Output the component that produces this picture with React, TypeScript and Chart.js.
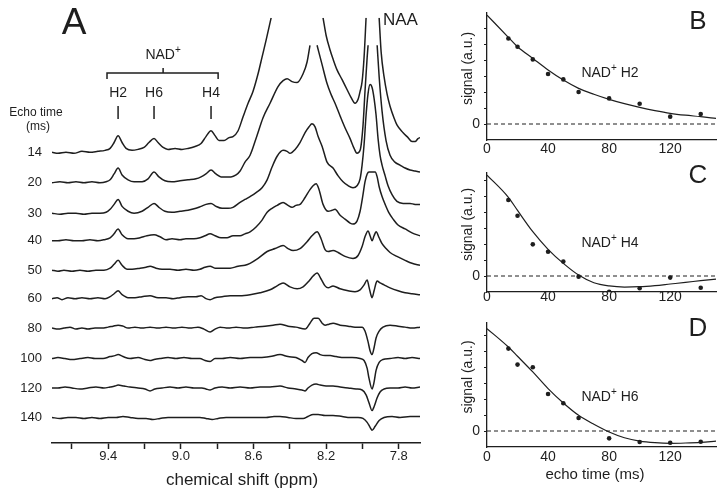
import React, { useEffect, useRef } from 'react';
import { Chart, registerables } from 'chart.js';

Chart.register(...registerables);

const FONT = '"Liberation Sans", Arial, Helvetica, sans-serif';
const INK = '#1e1e1e';
Chart.defaults.font.family = FONT;
Chart.defaults.color = INK;

// ---------- Panel A data ----------
const echoTimes = [14, 20, 30, 40, 50, 60, 80, 100, 120, 140];
// vertical offset of each stacked spectrum (a.u.)
const traceOffsets = [296, 265, 234, 206, 176, 147, 117, 86, 56, 26];
const ppmTicks = [9.6, 9.4, 9.2, 9.0, 8.8, 8.6, 8.4, 8.2, 8.0, 7.8];
const ppmTickLabels = ['9.4', '9.0', '8.6', '8.2', '7.8'];
const nadPeakLabels = ['H2', 'H6', 'H4'];
const nadPeakPpm = [9.346, 9.148, 8.834];
const nadBracketPpm = [9.407, 9.098, 8.795];

// spectra: [ppm, intensity above own baseline]; null = trace clipped
const spec14 = [[9.710,0],[9.677,-1],[9.633,0],[9.589,-1],[9.545,1],[9.501,0],[9.457,1],[9.418,2],[9.390,4],[9.368,10],[9.346,17],[9.324,10],[9.302,4],[9.269,2],[9.236,3],[9.203,5],[9.176,10],[9.148,14],[9.126,10],[9.098,5],[9.071,3],[9.032,4],[8.994,3],[8.961,4],[8.922,6],[8.889,9],[8.862,16],[8.834,22],[8.812,17],[8.790,12],[8.762,12],[8.735,15],[8.713,16],[8.685,22],[8.658,36],[8.630,50],[8.603,62],[8.575,80],[8.553,97],[8.531,114],[8.503,137],[8.37,null],[8.217,137],[8.200,119],[8.178,104],[8.162,95],[8.140,84],[8.112,74],[8.085,64],[8.063,56],[8.041,50],[8.024,54],[8.013,62],[8.002,72],[7.991,97],[7.980,137],[7.95,null],[7.908,137],[7.897,102],[7.881,77],[7.864,59],[7.848,47],[7.826,35],[7.810,28],[7.776,20],[7.749,15],[7.727,11],[7.710,11],[7.694,14],[7.683,15]];
const spec20 = [[9.710,0],[9.666,1],[9.622,0],[9.578,1],[9.534,0],[9.490,1],[9.446,0],[9.412,1],[9.390,3],[9.368,9],[9.346,15],[9.324,8],[9.291,3],[9.258,1],[9.214,1],[9.181,4],[9.148,11],[9.121,6],[9.088,2],[9.049,1],[9.005,2],[8.961,3],[8.917,4],[8.889,6],[8.862,9],[8.834,13],[8.807,9],[8.779,6],[8.751,6],[8.724,6],[8.696,8],[8.674,12],[8.647,21],[8.619,28],[8.581,48],[8.548,66],[8.509,81],[8.465,98],[8.437,104],[8.415,106],[8.388,103],[8.360,102],[8.327,111],[8.305,123],[8.289,140],[8.27,null],[8.250,140],[8.222,120],[8.195,101],[8.173,90],[8.151,81],[8.123,68],[8.096,56],[8.068,45],[8.046,35],[8.030,30],[8.013,33],[7.997,58],[7.986,93],[7.974,128],[7.969,140],[7.95,null],[7.919,140],[7.908,108],[7.892,73],[7.870,43],[7.848,28],[7.821,21],[7.793,18],[7.765,15],[7.738,13],[7.710,12],[7.683,11]];
const spec30 = [[9.710,0],[9.666,-1],[9.622,0],[9.578,0],[9.534,-1],[9.490,0],[9.446,0],[9.412,1],[9.390,4],[9.368,9],[9.346,14],[9.324,7],[9.291,2],[9.258,0],[9.214,2],[9.181,6],[9.148,10],[9.121,6],[9.088,2],[9.049,1],[9.005,2],[8.961,3],[8.917,5],[8.889,7],[8.862,9],[8.834,10],[8.807,7],[8.773,5],[8.740,5],[8.713,6],[8.674,11],[8.647,14],[8.619,17],[8.586,21],[8.553,26],[8.525,34],[8.498,47],[8.470,58],[8.437,64],[8.415,63],[8.399,61],[8.371,65],[8.344,72],[8.316,82],[8.294,88],[8.278,91],[8.261,88],[8.244,78],[8.222,68],[8.195,52],[8.162,46],[8.134,38],[8.107,32],[8.079,28],[8.052,26],[8.030,28],[8.013,35],[8.002,49],[7.991,70],[7.980,100],[7.969,122],[7.958,131],[7.947,128],[7.936,117],[7.925,100],[7.914,76],[7.903,59],[7.892,49],[7.875,38],[7.859,28],[7.837,19],[7.810,12],[7.776,10],[7.738,10],[7.710,9],[7.683,9]];
const spec40 = [[9.710,0],[9.677,0],[9.633,1],[9.589,0],[9.545,0],[9.501,1],[9.457,0],[9.424,1],[9.390,3],[9.368,7],[9.346,12],[9.324,6],[9.291,2],[9.258,2],[9.225,3],[9.187,5],[9.148,6],[9.115,4],[9.082,1],[9.049,2],[9.005,1],[8.972,2],[8.928,2],[8.895,3],[8.867,5],[8.839,7],[8.812,5],[8.779,3],[8.746,3],[8.713,5],[8.674,5],[8.647,7],[8.619,9],[8.586,14],[8.553,21],[8.525,29],[8.498,33],[8.470,36],[8.437,39],[8.410,36],[8.388,34],[8.366,36],[8.344,37],[8.316,44],[8.289,52],[8.272,56],[8.255,58],[8.239,52],[8.217,37],[8.189,30],[8.167,31],[8.151,32],[8.123,26],[8.096,22],[8.068,18],[8.052,17],[8.030,20],[8.013,30],[7.997,47],[7.986,60],[7.974,68],[7.964,70],[7.947,70],[7.930,70],[7.919,65],[7.908,55],[7.892,45],[7.875,37],[7.853,28],[7.831,22],[7.804,16],[7.765,12],[7.727,8],[7.683,5]];
const spec50 = [[9.710,0],[9.677,-1],[9.644,0],[9.600,-1],[9.556,0],[9.512,-1],[9.468,0],[9.424,0],[9.390,2],[9.368,6],[9.346,10],[9.324,5],[9.297,1],[9.269,1],[9.225,2],[9.192,3],[9.170,4],[9.137,2],[9.104,1],[9.060,1],[9.016,0],[8.972,1],[8.928,0],[8.895,1],[8.867,3],[8.839,4],[8.812,2],[8.773,2],[8.729,2],[8.685,4],[8.647,5],[8.619,7],[8.575,12],[8.525,19],[8.481,22],[8.437,25],[8.410,22],[8.382,20],[8.344,22],[8.305,29],[8.278,35],[8.250,39],[8.228,32],[8.206,21],[8.189,19],[8.162,20],[8.134,18],[8.096,14],[8.052,12],[8.024,15],[8.002,24],[7.986,34],[7.969,40],[7.958,35],[7.947,30],[7.936,35],[7.925,39],[7.908,33],[7.892,27],[7.870,22],[7.848,18],[7.810,14],[7.765,10],[7.727,7],[7.683,5]];
const spec60 = [[9.710,0],[9.682,1],[9.655,-1],[9.622,1],[9.583,0],[9.545,1],[9.501,0],[9.457,1],[9.418,0],[9.390,2],[9.368,5],[9.346,8],[9.324,4],[9.291,1],[9.253,1],[9.214,2],[9.170,3],[9.126,1],[9.082,1],[9.043,0],[9.005,1],[8.961,2],[8.917,2],[8.889,3],[8.862,0],[8.839,-1],[8.812,1],[8.773,2],[8.729,3],[8.674,3],[8.619,4],[8.564,6],[8.509,9],[8.470,13],[8.437,16],[8.399,12],[8.360,10],[8.327,12],[8.294,18],[8.272,23],[8.250,26],[8.228,20],[8.206,13],[8.189,11],[8.162,13],[8.123,10],[8.079,8],[8.041,7],[8.013,9],[7.991,14],[7.974,19],[7.964,12],[7.952,3],[7.947,1],[7.936,8],[7.925,16],[7.919,18],[7.903,16],[7.881,14],[7.848,11],[7.804,8],[7.765,6],[7.727,5],[7.683,4]];
const spec80 = [[9.710,0],[9.677,-1],[9.644,0],[9.611,1],[9.578,-1],[9.545,0],[9.512,-1],[9.473,0],[9.435,0],[9.401,1],[9.374,2],[9.346,3],[9.319,2],[9.291,0],[9.253,1],[9.214,0],[9.170,1],[9.126,0],[9.082,1],[9.038,0],[8.994,1],[8.950,0],[8.906,1],[8.873,-1],[8.839,-4],[8.812,-1],[8.784,1],[8.740,0],[8.696,1],[8.647,0],[8.592,1],[8.537,2],[8.492,3],[8.454,4],[8.410,2],[8.366,1],[8.316,-1],[8.289,5],[8.267,10],[8.244,10],[8.222,5],[8.206,3],[8.184,4],[8.162,5],[8.123,3],[8.079,2],[8.041,1],[8.002,1],[7.986,-3],[7.969,-14],[7.958,-23],[7.947,-27],[7.936,-20],[7.925,-10],[7.908,-3],[7.887,1],[7.848,3],[7.804,2],[7.765,1],[7.727,0],[7.683,1]];
const spec100 = [[9.710,0],[9.677,1],[9.638,0],[9.600,-1],[9.556,0],[9.512,1],[9.473,0],[9.429,0],[9.390,2],[9.363,3],[9.346,4],[9.319,2],[9.280,0],[9.236,1],[9.198,-1],[9.170,-2],[9.148,-1],[9.115,0],[9.071,1],[9.027,0],[8.983,1],[8.939,0],[8.895,0],[8.867,-2],[8.839,-3],[8.812,0],[8.773,0],[8.729,1],[8.674,0],[8.619,1],[8.564,1],[8.509,2],[8.454,4],[8.410,2],[8.366,1],[8.333,-2],[8.316,-4],[8.300,1],[8.278,5],[8.255,6],[8.233,4],[8.206,3],[8.178,3],[8.145,2],[8.101,1],[8.057,1],[8.013,0],[7.991,-2],[7.974,-10],[7.964,-20],[7.947,-31],[7.936,-24],[7.925,-12],[7.908,-4],[7.887,-1],[7.848,0],[7.804,1],[7.765,0],[7.727,1],[7.683,0]];
const spec120 = [[9.710,0],[9.677,0],[9.638,1],[9.600,0],[9.556,-1],[9.512,0],[9.468,1],[9.424,0],[9.390,1],[9.363,2],[9.346,3],[9.313,2],[9.280,1],[9.236,0],[9.198,-1],[9.170,-3],[9.143,-1],[9.104,0],[9.060,1],[9.016,0],[8.972,1],[8.928,0],[8.884,0],[8.862,-1],[8.839,-2],[8.812,0],[8.773,1],[8.729,0],[8.674,1],[8.619,0],[8.564,1],[8.509,1],[8.454,2],[8.410,0],[8.366,-1],[8.333,-2],[8.316,-3],[8.300,0],[8.278,3],[8.255,4],[8.233,3],[8.200,2],[8.162,2],[8.123,1],[8.079,0],[8.035,-1],[8.002,-2],[7.980,-7],[7.964,-15],[7.947,-23],[7.936,-19],[7.919,-10],[7.903,-4],[7.881,-1],[7.848,0],[7.804,0],[7.765,1],[7.727,0],[7.683,1]];
const spec140 = [[9.710,0],[9.666,-1],[9.622,0],[9.578,0],[9.534,-1],[9.490,0],[9.446,-1],[9.401,0],[9.357,0],[9.319,1],[9.280,0],[9.236,-1],[9.192,-1],[9.154,-2],[9.115,-1],[9.071,0],[9.027,0],[8.983,0],[8.939,0],[8.895,0],[8.862,-1],[8.828,-2],[8.795,-1],[8.751,0],[8.696,0],[8.641,0],[8.586,0],[8.531,0],[8.487,1],[8.454,1],[8.410,0],[8.366,-1],[8.327,-1],[8.300,1],[8.272,3],[8.244,3],[8.206,2],[8.162,2],[8.112,1],[8.068,0],[8.024,0],[7.997,-1],[7.974,-5],[7.958,-10],[7.947,-13],[7.930,-9],[7.908,-3],[7.881,0],[7.837,1],[7.793,0],[7.738,1],[7.683,1]];
const spectra = [spec14, spec20, spec30, spec40, spec50, spec60, spec80, spec100, spec120, spec140];

// ---------- Panels B-D data ----------
const timeTicks = [0, 40, 80, 120];
const signalTicks = [0, 1, 2, 3, 4, 5, 6];
const fitTimes = [0, 14, 20, 30, 40, 50, 60, 70, 80, 90, 100, 110, 120, 130, 140, 150];
const h2Signal = [5.35, 4.83, 4.04, 3.13, 2.79, 2.0, 1.6, 1.27, 0.46, 0.63];
const h2Fit = [6.81, 5.42, 4.83, 4.1, 3.38, 2.75, 2.23, 1.86, 1.54, 1.27, 1.04, 0.84, 0.67, 0.55, 0.46, 0.35];
const h4Signal = [4.75, 3.77, 1.98, 1.52, 0.9, -0.04, -0.98, -0.77, -0.1, -0.73];
const h4Fit = [6.31, 4.92, 4.1, 2.77, 1.67, 0.79, 0.06, -0.42, -0.62, -0.69, -0.67, -0.6, -0.5, -0.4, -0.29, -0.19];
const h6Signal = [5.15, 4.15, 3.98, 2.31, 1.73, 0.81, -0.46, -0.69, -0.73, -0.67];
const h6Fit = [6.4, 5.25, 4.67, 3.69, 2.65, 1.75, 0.98, 0.42, -0.06, -0.42, -0.63, -0.73, -0.77, -0.75, -0.71, -0.63];

function drawNad(ctx: CanvasRenderingContext2D, suffix: string, cx: number, cy: number, size: number) {
  ctx.font = `${size}px ${FONT}`;
  const wb = ctx.measureText('NAD').width;
  const ws2 = ctx.measureText(suffix).width;
  const supSize = Math.round(size * 0.7);
  ctx.font = `${supSize}px ${FONT}`;
  const ws = ctx.measureText('+').width;
  const start = cx - (wb + ws + ws2) / 2;
  ctx.textAlign = 'left';
  ctx.textBaseline = 'middle';
  ctx.font = `${size}px ${FONT}`;
  ctx.fillText('NAD', start, cy);
  ctx.font = `${supSize}px ${FONT}`;
  ctx.fillText('+', start + wb, cy - size * 0.33);
  if (suffix) {
    ctx.font = `${size}px ${FONT}`;
    ctx.fillText(suffix, start + wb + ws, cy);
  }
}

const annotA = {
  id: 'annotA',
  afterDraw(chart: any) {
    const { ctx } = chart;
    const x = chart.scales.x;
    ctx.save();
    ctx.fillStyle = INK;
    ctx.strokeStyle = INK;
    ctx.lineWidth = 1.5;
    ctx.textAlign = 'center';
    ctx.textBaseline = 'middle';
    ctx.font = `37px ${FONT}`;
    ctx.fillText('A', 74, 24);
    const bx1 = x.getPixelForValue(nadBracketPpm[0]);
    const bxm = x.getPixelForValue(nadBracketPpm[1]);
    const bx2 = x.getPixelForValue(nadBracketPpm[2]);
    drawNad(ctx, '', bxm, 55, 14);
    ctx.beginPath();
    ctx.moveTo(bx1, 79); ctx.lineTo(bx1, 73); ctx.lineTo(bx2, 73); ctx.lineTo(bx2, 79);
    ctx.moveTo(bxm, 73); ctx.lineTo(bxm, 68);
    ctx.stroke();
    ctx.textAlign = 'center';
    ctx.font = `14px ${FONT}`;
    nadPeakPpm.forEach((p, i) => {
      const px = x.getPixelForValue(p);
      ctx.fillText(nadPeakLabels[i], px, 93);
      ctx.beginPath(); ctx.moveTo(px, 106); ctx.lineTo(px, 119); ctx.stroke();
    });
    ctx.font = `12px ${FONT}`;
    ctx.fillText('Echo time', 36, 113);
    ctx.fillText('(ms)', 38, 127);
    ctx.font = `17px ${FONT}`;
    ctx.fillText('chemical shift (ppm)', 242, 480);
    ctx.textAlign = 'left';
    ctx.fillText('NAA', 383, 20);
    ctx.restore();
  },
};

function makeSpectraConfig(): any {
  return {
    type: 'line',
    data: {
      datasets: spectra.map((s, i) => ({
        data: s.map(([px, v]) => ({ x: px, y: v === null ? null : traceOffsets[i] + (v as number) })),
        borderColor: INK,
        borderWidth: 1.5,
        pointRadius: 0,
        cubicInterpolationMode: 'monotone',
        spanGaps: false,
        fill: false,
      })),
    },
    options: {
      responsive: false,
      animation: false,
      layout: { padding: { top: 10, right: 20, left: 0, bottom: 0 } },
      plugins: { legend: { display: false }, tooltip: { enabled: false } },
      scales: {
        x: {
          type: 'linear',
          reverse: true,
          min: 7.683,
          max: 9.71,
          afterBuildTicks: (s: any) => { s.ticks = ppmTicks.map((v) => ({ value: v })); },
          afterFit: (s: any) => { s.height = 55; },
          border: { display: true, color: INK, width: 1.5 },
          grid: { display: true, drawOnChartArea: false, drawTicks: true, tickLength: 6, tickWidth: 1.5, tickColor: INK },
          ticks: {
            autoSkip: false,
            maxRotation: 0,
            padding: 0,
            color: INK,
            font: { size: 13, family: FONT },
            callback: (v: number) => { const s = Number(v).toFixed(1); return ppmTickLabels.includes(s) ? s : ''; },
          },
        },
        y: {
          type: 'linear',
          min: 0,
          max: 433,
          afterBuildTicks: (s: any) => { s.ticks = traceOffsets.map((v) => ({ value: v })); },
          afterFit: (s: any) => { s.width = 52; },
          border: { display: false },
          grid: { display: false, drawTicks: false },
          ticks: {
            autoSkip: false,
            padding: 10,
            color: INK,
            font: { size: 13, family: FONT },
            callback: (v: number) => { const i = traceOffsets.indexOf(v); return i >= 0 ? String(echoTimes[i]) : ''; },
          },
        },
      },
    },
    plugins: [annotA],
  };
}

type FitOpts = {
  signal: number[]; fit: number[]; yMax: number; axisH: number; labelPad: number;
  letter: string; letterY: number; nadSuffix: string; nadY: number; xTitle?: boolean;
};

function makeFitConfig(o: FitOpts): any {
  const plugin = {
    id: 'fitAnnot' + o.letter,
    beforeDatasetsDraw(chart: any) {
      const { ctx, chartArea } = chart;
      const y0 = chart.scales.y.getPixelForValue(0);
      ctx.save();
      ctx.strokeStyle = INK;
      ctx.lineWidth = 1;
      ctx.setLineDash([4, 3]);
      ctx.beginPath();
      ctx.moveTo(chartArea.left, y0);
      ctx.lineTo(chartArea.right, y0);
      ctx.stroke();
      ctx.restore();
    },
    afterDraw(chart: any) {
      const { ctx, chartArea } = chart;
      const y0 = chart.scales.y.getPixelForValue(0);
      ctx.save();
      ctx.fillStyle = INK;
      ctx.textAlign = 'center';
      ctx.textBaseline = 'middle';
      ctx.font = `26px ${FONT}`;
      ctx.fillText(o.letter, 243, o.letterY);
      drawNad(ctx, ' ' + o.nadSuffix, 155, o.nadY, 14);
      ctx.save();
      ctx.translate(13, (y0 + chartArea.top) / 2);
      ctx.rotate(-Math.PI / 2);
      ctx.textAlign = 'center';
      ctx.textBaseline = 'middle';
      ctx.font = `14px ${FONT}`;
      ctx.fillText('signal (a.u.)', 0, 0);
      ctx.restore();
      if (o.xTitle) {
        ctx.textAlign = 'center';
        ctx.textBaseline = 'middle';
        ctx.font = `15px ${FONT}`;
        ctx.fillText('echo time (ms)', 140, 165);
      }
      ctx.restore();
    },
  };
  return {
    type: 'line',
    data: {
      datasets: [
        {
          data: fitTimes.map((t, i) => ({ x: t, y: o.fit[i] })),
          borderColor: INK,
          borderWidth: 1.2,
          pointRadius: 0,
          cubicInterpolationMode: 'monotone',
          fill: false,
        },
        {
          data: echoTimes.map((t, i) => ({ x: t, y: o.signal[i] })),
          showLine: false,
          pointRadius: 2.3,
          pointBorderWidth: 0,
          pointBackgroundColor: INK,
          borderColor: INK,
        },
      ],
    },
    options: {
      responsive: false,
      animation: false,
      layout: { padding: { top: 13, right: 10, left: 0, bottom: 0 } },
      plugins: { legend: { display: false }, tooltip: { enabled: false } },
      scales: {
        x: {
          type: 'linear',
          min: 0,
          max: 150,
          afterBuildTicks: (s: any) => { s.ticks = timeTicks.map((v) => ({ value: v })); },
          afterFit: (s: any) => { s.height = o.axisH; },
          border: { display: true, color: INK, width: 1.3 },
          grid: { display: false, drawTicks: false },
          ticks: { autoSkip: false, maxRotation: 0, padding: o.labelPad, color: INK, font: { size: 14, family: FONT } },
        },
        y: {
          type: 'linear',
          min: -1,
          max: o.yMax,
          afterBuildTicks: (s: any) => { s.ticks = signalTicks.map((v) => ({ value: v })); },
          afterFit: (s: any) => { s.width = 32; },
          border: { display: true, color: INK, width: 1.3 },
          grid: { display: true, drawOnChartArea: false, drawTicks: true, tickLength: 3, tickWidth: 1, tickColor: INK },
          ticks: {
            autoSkip: false,
            padding: 4,
            color: INK,
            font: { size: 14, family: FONT },
            callback: (v: number) => (v === 0 ? '0' : ''),
          },
        },
      },
    },
    plugins: [plugin],
  };
}

function ChartCanvas(props: { left: number; top: number; width: number; height: number; make: () => any }) {
  const ref = useRef<HTMLCanvasElement>(null);
  useEffect(() => {
    const chart = new Chart(ref.current as HTMLCanvasElement, props.make());
    return () => chart.destroy();
  }, []);
  return (
    <canvas
      ref={ref}
      width={props.width}
      height={props.height}
      style={{ position: 'absolute', left: props.left, top: props.top, width: props.width, height: props.height, display: 'block' }}
    />
  );
}

export default function App() {
  return (
    <div style={{ position: 'fixed', left: 0, top: 0, width: 726, height: 498, background: '#fff', overflow: 'hidden' }}>
      <ChartCanvas left={0} top={0} width={440} height={498} make={makeSpectraConfig} />
      <ChartCanvas
        left={455} top={0} width={271} height={160}
        make={() => makeFitConfig({ signal: h2Signal, fit: h2Fit, yMax: 6.94, axisH: 20, labelPad: 1, letter: 'B', letterY: 22, nadSuffix: 'H2', nadY: 73 })}
      />
      <ChartCanvas
        left={455} top={160} width={271} height={150}
        make={() => makeFitConfig({ signal: h4Signal, fit: h4Fit, yMax: 6.44, axisH: 18, labelPad: -3, letter: 'C', letterY: 16, nadSuffix: 'H4', nadY: 83 })}
      />
      <ChartCanvas
        left={455} top={310} width={271} height={188}
        make={() => makeFitConfig({ signal: h6Signal, fit: h6Fit, yMax: 6.75, axisH: 51, labelPad: 2, letter: 'D', letterY: 19, nadSuffix: 'H6', nadY: 87, xTitle: true })}
      />
    </div>
  );
}
